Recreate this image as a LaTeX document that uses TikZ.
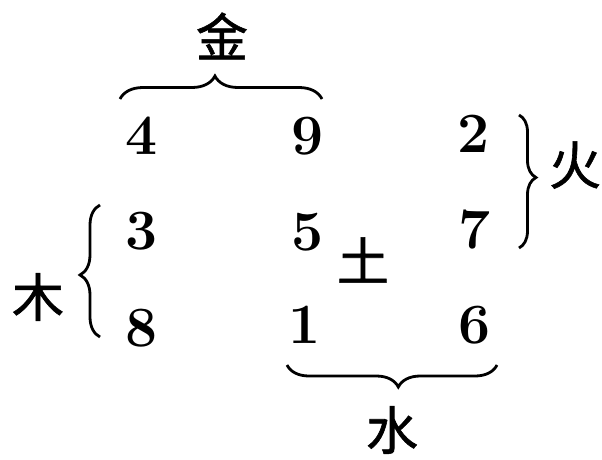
\documentclass[tikz,border=0pt]{standalone}
\usepackage{fontspec}
\newfontfamily\cjk{Noto Sans CJK SC}[FakeBold=1.2]
\usetikzlibrary{decorations.pathreplacing,positioning}
\tikzset{num/.style={font=\fontsize{57}{57}\selectfont\bfseries,inner sep=0pt},elem/.style={font=\fontsize{52}{52}\selectfont\cjk,inner sep=0pt},brc/.style={decorate,decoration={brace,amplitude=#1,aspect=0.47},line width=2.8pt},brc/.default=20pt}

\begin{document}
\begin{tikzpicture}[x=1pt,y=-1pt]
\useasboundingbox (0,0) rectangle (602,460);
\node[num](n4) at (142,136){4};\node[num](n9) at (308,136){9};\node[num](n2) at (474,134){2};
\node[num](n3) at (142,231){3};\node[num](n5) at (308,232){5};\node[num](n7) at (475,230){7};
\node[num](n8) at (142,328){8};\node[num](n1) at (305,325){1};\node[num](n6) at (475,325){6};
\node[elem](tu) at (363,260){土};
\coordinate (jinA) at (120,99);\coordinate (jinB) at (322,99);
\coordinate (huoA) at (519,115);\coordinate (huoB) at (519,248);
\coordinate (muA) at (100,337);\coordinate (muB) at (100,205);
\coordinate (shuiA) at (497,365);\coordinate (shuiB) at (287,365);
\draw[brc=23pt](jinA)--(jinB);\draw[brc=17pt](huoA)--(huoB);
\draw[brc](muA)--(muB);\draw[brc=22pt](shuiA)--(shuiB);
\node[elem](jin) at (222,36){金};\node[elem](huo) at (575,165){火};
\node[elem](mu) at (38,297){木};\node[elem](shui) at (392,430){水};
\end{tikzpicture}
\end{document}
